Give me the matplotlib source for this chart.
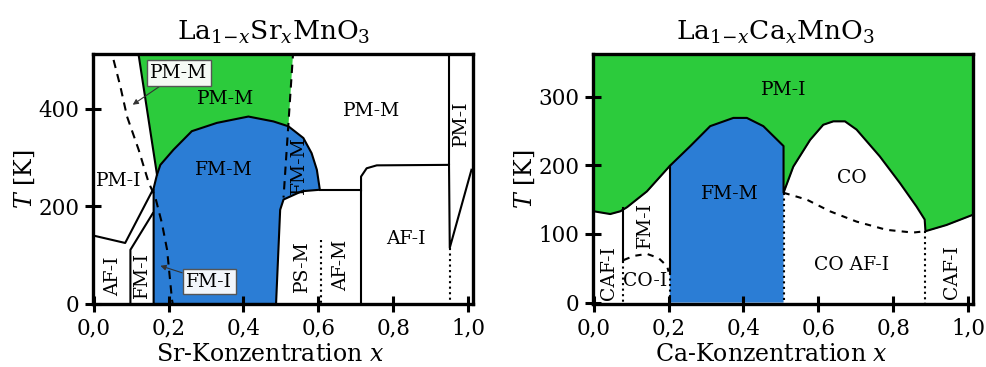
import matplotlib
matplotlib.use('Agg')
import matplotlib.pyplot as plt

plt.rcParams['font.family'] = ['DejaVu Serif']
plt.rcParams['mathtext.fontset'] = 'dejavuserif'

GREEN = '#2ccb3c'
BLUE = '#2b7dd5'

#===================================================================#
# 1. La(1-x)Sr(x)MnO3 Daten (aus Bild abgelesen)

## FM-M Gebiet (blau), Umriss
sr_fm_x = [0.160, 0.160, 0.169, 0.178, 0.213, 0.262, 0.329, 0.413, 0.480, 0.520,
           0.560, 0.582, 0.596, 0.604, 0.556, 0.507, 0.498, 0.487]
sr_fm_T = [0, 237, 265, 285, 316, 354, 371, 384, 374, 364,
           340, 309, 275, 234, 231, 214, 193, 0]

## PM-M Gebiet (gruen)
sr_pm_x = [0.118, 0.169, 0.178, 0.213, 0.262, 0.329, 0.413, 0.480, 0.520, 0.533]
sr_pm_T = [520, 265, 285, 316, 354, 371, 384, 374, 364, 520]

## Linien
sr_green_edge_x = [0.118, 0.169]
sr_green_edge_T = [520, 265]
sr_afi_x = [0.0, 0.084, 0.158]
sr_afi_T = [140, 125, 234]
sr_fmi_x = [0.098, 0.098, 0.158]
sr_fmi_T = [0, 111, 186]
sr_dash1_x = [0.053, 0.071, 0.089, 0.120, 0.147, 0.164, 0.182, 0.196, 0.209, 0.211]
sr_dash1_T = [500, 446, 384, 316, 248, 220, 166, 111, 9, 0]
sr_dash2_x = [0.533, 0.507]
sr_dash2_T = [520, 218]
sr_psm_x = [0.604, 0.714, 0.714]
sr_psm_T = [233, 233, 0]
sr_afi2_x = [0.714, 0.714, 0.729, 0.756, 0.949, 0.949]
sr_afi2_T = [233, 261, 278, 284, 285, 520]
sr_pmi_x = [0.949, 0.951, 1.009]
sr_pmi_T = [285, 115, 275]
sr_dot1_x = [0.607, 0.607]
sr_dot1_T = [132, 0]
sr_dot2_x = [0.951, 0.951]
sr_dot2_T = [115, 0]

sr_labels = [('PM-M', 0.351, 420, 0), ('PM-M', 0.742, 395, 0), ('FM-M', 0.348, 275, 0),
             ('FM-M', 0.547, 285, 90), ('PM-I', 0.067, 251, 0), ('AF-I', 0.053, 57, 90),
             ('FM-I', 0.129, 60, 90), ('PS-M', 0.556, 77, 90), ('AF-M', 0.662, 80, 90),
             ('AF-I', 0.834, 133, 0), ('PM-I', 0.982, 371, 90)]

#===================================================================#
# 2. La(1-x)Ca(x)MnO3 Daten

## Grenze PM-I (gruen oben)
ca_top_x = [0.0, 0.044, 0.071, 0.089, 0.142, 0.203, 0.258, 0.311, 0.373, 0.409, 0.453, 0.507,
            0.507, 0.533, 0.578, 0.613, 0.640, 0.671, 0.702, 0.764, 0.818, 0.862, 0.884, 0.886,
            0.942, 1.013]
ca_top_T = [133, 129, 133, 139, 162, 199, 228, 257, 269, 269, 257, 228,
            160, 198, 237, 259, 264, 264, 252, 213, 174, 140, 121, 104,
            113, 128]

## FM-M (blau)
ca_fm_x = [0.203, 0.203, 0.258, 0.311, 0.373, 0.409, 0.453, 0.507, 0.507]
ca_fm_T = [0, 199, 228, 257, 269, 269, 257, 228, 0]

ca_co_x = [0.507, 0.569, 0.631, 0.702, 0.782, 0.853, 0.886]
ca_co_T = [160, 150, 133, 118, 106, 102, 104]
ca_coi_x = [0.080, 0.107, 0.142, 0.173, 0.196, 0.200]
ca_coi_T = [62, 68, 71, 65, 53, 45]
ca_fmi_x = [0.078, 0.078]
ca_fmi_T = [138, 60]

ca_labels = [('PM-I', 0.507, 310, 0), ('FM-M', 0.364, 158, 0), ('CO', 0.689, 181, 0),
             ('CO AF-I', 0.689, 55, 0), ('FM-I', 0.138, 113, 90), ('CAF-I', 0.040, 43, 90),
             ('CO-I', 0.138, 31, 0), ('CAF-I', 0.956, 45, 90)]

xticks = [0.0, 0.2, 0.4, 0.6, 0.8, 1.0]
xticklabels = ['0,0', '0,2', '0,4', '0,6', '0,8', '1,0']

LABEL_FS = 13.5

#===================================================================#
# 3. Zeichnen
fig = plt.figure(figsize=(9.87, 3.67), dpi=100)
ax1 = fig.add_axes([0.0942, 0.1717, 0.385, 0.681])
ax2 = fig.add_axes([0.6008, 0.1717, 0.385, 0.681])

def style(ax, yticks):
    for s in ax.spines.values():
        s.set_linewidth(2.4)
    ax.set_xticks(xticks)
    ax.set_xticklabels(xticklabels)
    ax.set_yticks(yticks)
    ax.tick_params(direction='inout', length=12, width=2.2, labelsize=15.5, pad=4)
    ax.set_ylabel(r'$T$ [K]', fontsize=17, labelpad=1)

## Links: Sr
ax1.fill(sr_pm_x, sr_pm_T, color=GREEN, lw=0)
ax1.fill(sr_fm_x, sr_fm_T, facecolor=BLUE, edgecolor='black', lw=1.5)
ax1.plot(sr_green_edge_x, sr_green_edge_T, 'k-', lw=1.5)
ax1.plot(sr_afi_x, sr_afi_T, 'k-', lw=1.5)
ax1.plot(sr_fmi_x, sr_fmi_T, 'k-', lw=1.5)
ax1.plot(sr_psm_x, sr_psm_T, 'k-', lw=1.5)
ax1.plot(sr_afi2_x, sr_afi2_T, 'k-', lw=1.5)
ax1.plot(sr_pmi_x, sr_pmi_T, 'k-', lw=1.5)
ax1.plot(sr_dash1_x, sr_dash1_T, 'k--', lw=1.5, dashes=(4, 3))
ax1.plot(sr_dash2_x, sr_dash2_T, 'k--', lw=1.5, dashes=(4, 3))
ax1.plot(sr_dot1_x, sr_dot1_T, 'k:', lw=1.5)
ax1.plot(sr_dot2_x, sr_dot2_T, 'k:', lw=1.5)
for txt, x, y, rot in sr_labels:
    ax1.text(x, y, txt, fontsize=LABEL_FS, rotation=rot, ha='center', va='center')
ax1.annotate('PM-M', xy=(0.098, 405), xytext=(0.228, 473), fontsize=LABEL_FS, ha='center', va='center',
             bbox=dict(boxstyle='square,pad=0.2', fc='#f5faf5', ec='#555555', lw=1),
             arrowprops=dict(arrowstyle='-|>', color='#333333', lw=0.8, mutation_scale=8, shrinkA=0))
ax1.annotate('FM-I', xy=(0.171, 80), xytext=(0.309, 46), fontsize=LABEL_FS, ha='center', va='center',
             bbox=dict(boxstyle='square,pad=0.2', fc='#f2f6fb', ec='#555555', lw=1),
             arrowprops=dict(arrowstyle='-|>', color='#333333', lw=0.8, mutation_scale=8, shrinkA=0))
ax1.set_xlim(-0.002, 1.013)
ax1.set_ylim(0, 512)
style(ax1, [0, 200, 400])
ax1.set_xlabel(r'Sr-Konzentration $x$', fontsize=17, labelpad=2, x=0.465)
ax1.set_title(r'La$_{1\!-\!x}$Sr$_x$MnO$_3$', fontsize=19, pad=10, x=0.475)

## Rechts: Ca
ax2.fill_between(ca_top_x, ca_top_T, 400, color=GREEN, lw=0)
ax2.fill(ca_fm_x, ca_fm_T, color=BLUE, lw=0)
ax2.plot(ca_top_x, ca_top_T, 'k-', lw=1.5)
ax2.plot([0.203, 0.203], [199, 43], 'k-', lw=1.5)
ax2.plot([0.203, 0.203], [43, 0], 'k:', lw=1.5)
ax2.plot([0.507, 0.507], [160, 0], 'k:', lw=1.5)
ax2.plot([0.886, 0.886], [104, 0], 'k:', lw=1.5)
ax2.plot(ca_fmi_x, ca_fmi_T, 'k-', lw=1.5)
ax2.plot([0.078, 0.078], [60, 0], 'k:', lw=1.5)
ax2.plot(ca_co_x, ca_co_T, 'k--', lw=1.5, dashes=(3, 3))
ax2.plot(ca_coi_x, ca_coi_T, 'k--', lw=1.5, dashes=(3, 3))
for txt, x, y, rot in ca_labels:
    ax2.text(x, y, txt, fontsize=LABEL_FS, rotation=rot, ha='center', va='center')
ax2.set_xlim(-0.002, 1.013)
ax2.set_ylim(-2, 362)
style(ax2, [0, 100, 200, 300])
ax2.set_xlabel(r'Ca-Konzentration $x$', fontsize=17, labelpad=2, x=0.47)
ax2.set_title(r'La$_{1\!-\!x}$Ca$_x$MnO$_3$', fontsize=19, pad=10, x=0.48)

plt.savefig('out.png', dpi=100)
